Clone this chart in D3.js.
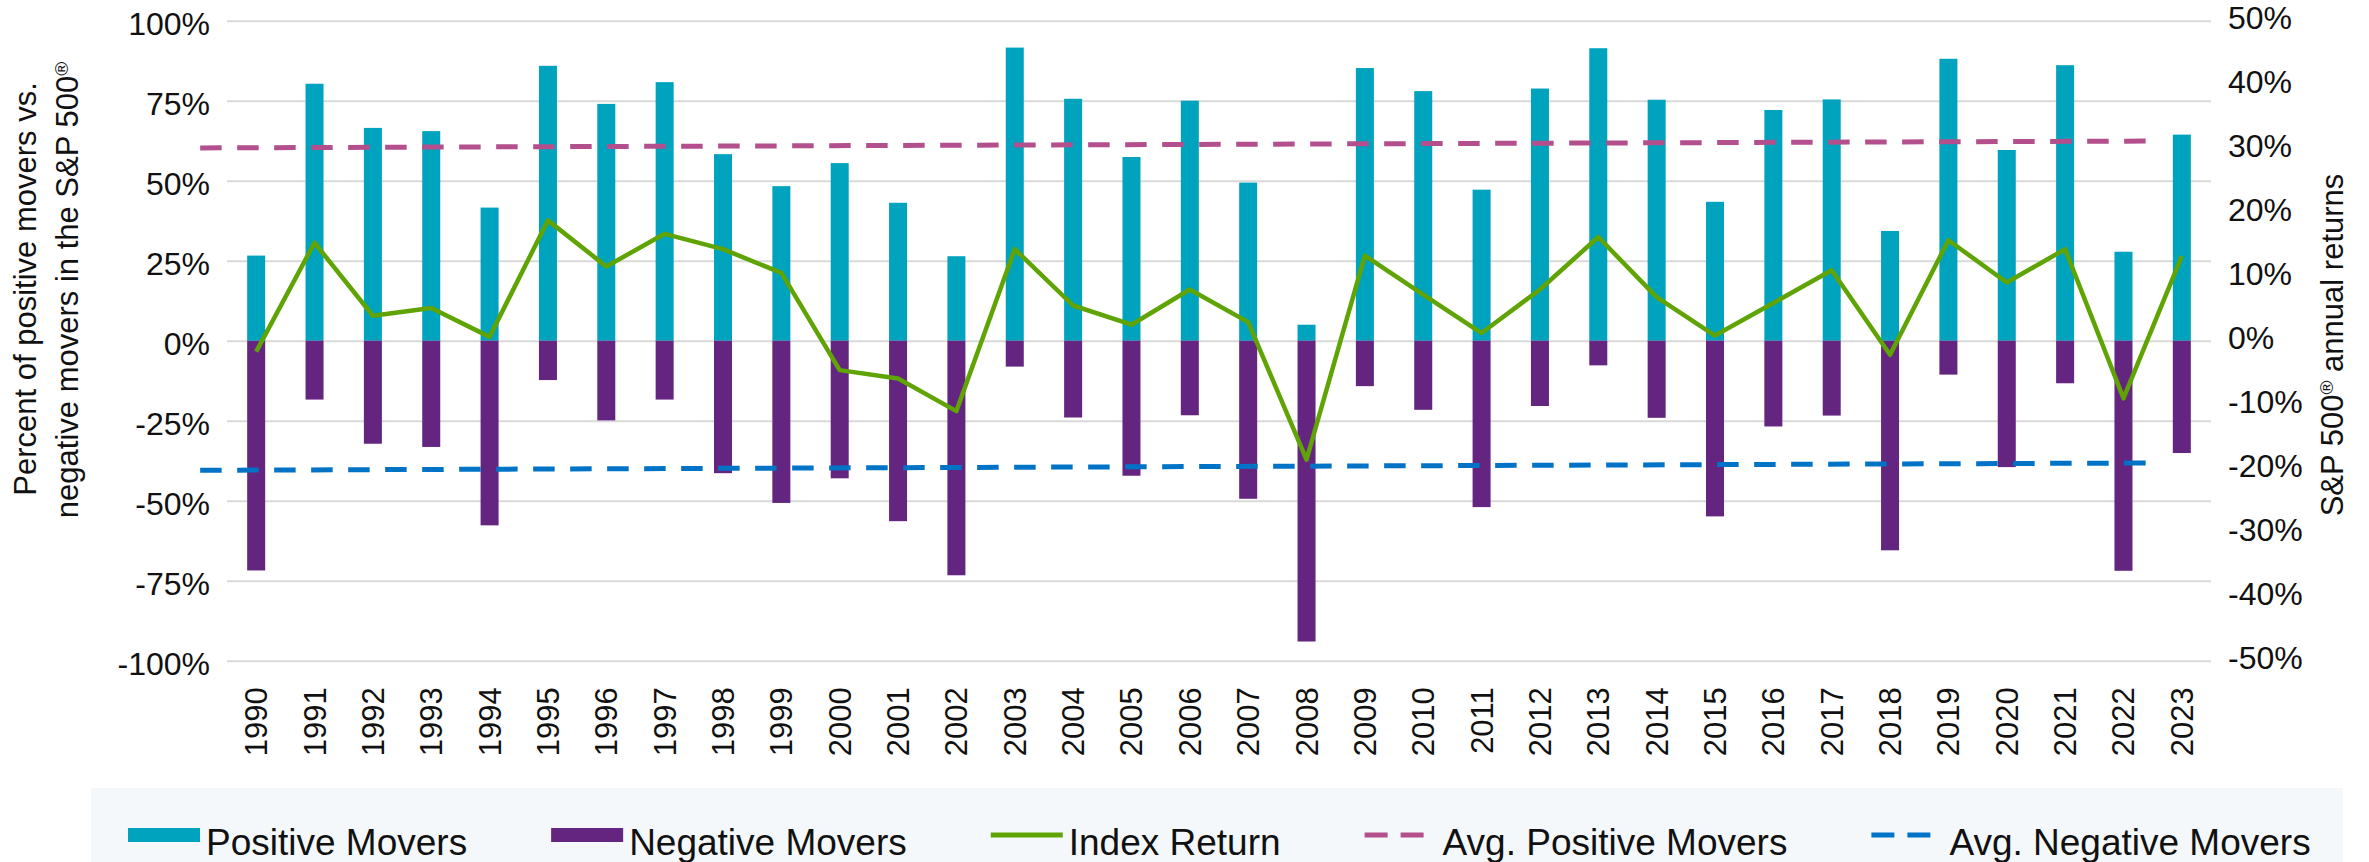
<!DOCTYPE html>
<html><head><meta charset="utf-8">
<script src="https://cdn.jsdelivr.net/npm/d3@7"></script>
<style>
body{margin:0;background:#fff}
text{font-family:"Liberation Sans",Arial,sans-serif;fill:#111}
</style>
</head><body>
<svg id="c" width="2369" height="862"></svg>
<script>
const years = ["1990","1991","1992","1993","1994","1995","1996","1997","1998","1999","2000","2001","2002","2003","2004","2005","2006","2007","2008","2009","2010","2011","2012","2013","2014","2015","2016","2017","2018","2019","2020","2021","2022","2023"];
const positiveMovers = [26.6,80.3,66.5,65.5,41.6,85.9,74.0,80.8,58.3,48.3,55.5,43.1,26.4,91.6,75.6,57.4,75.0,49.4,5.0,85.2,78.0,47.2,78.8,91.4,75.3,43.4,72.1,75.4,34.3,88.1,59.6,86.1,27.8,64.4];
const negativeMovers = [-71.8,-18.4,-32.2,-33.2,-57.7,-12.3,-24.9,-18.4,-41.4,-50.7,-43.0,-56.4,-73.3,-8.1,-24.0,-42.2,-23.3,-49.4,-94.0,-14.2,-21.6,-52.0,-20.4,-7.7,-24.1,-54.9,-26.8,-23.4,-65.5,-10.6,-39.5,-13.3,-71.9,-35.1];
const indexReturn = [-1.7,15.3,3.9,5.1,0.6,18.8,11.6,16.7,14.3,10.6,-4.6,-5.9,-11.0,14.3,5.5,2.5,8.0,2.9,-18.6,13.3,7.2,1.2,8.0,16.2,6.8,0.8,5.9,11.0,-2.2,15.7,9.1,14.3,-9.0,13.2];
const avgPositiveMovers = [60.25, 62.4];   // start, end of the average line
const avgNegativeMovers = [-40.5, -38.2];
const leftTicks = [100,75,50,25,0,-25,-50,-75,-100];
const rightTicks = [50,40,30,20,10,0,-10,-20,-30,-40,-50];
const legendItems = [
  {label:"Positive Movers", type:"rect", color:"#00A3BE"},
  {label:"Negative Movers", type:"rect", color:"#63257F"},
  {label:"Index Return", type:"line", color:"#5FA404"},
  {label:"Avg. Positive Movers", type:"dash", color:"#B44F8E"},
  {label:"Avg. Negative Movers", type:"dash", color:"#0173C7"}
];

const C = {pos:"#00A3BE", neg:"#63257F", idx:"#5FA404", avgP:"#B44F8E", avgN:"#0173C7", grid:"#D9D9D9"};
const svg = d3.select("#c");
const L = 227, R = 2211, T = 20.7, B = 660.7;

const x = d3.scaleBand().domain(years).range([L, R]);
const bw = x.bandwidth();
const barW = 18;
const cx = d => x(d) + bw/2;
const yL = d3.scaleLinear().domain([-100,100]).range([B, T]);
const yR = d3.scaleLinear().domain([-50,50]).range([B, T]);

// gridlines
const grid = svg.append("g").attr("transform", `translate(${L},0)`)
  .call(d3.axisLeft(yL).tickValues(leftTicks).tickSize(-(R-L)).tickFormat(""));
grid.select(".domain").remove();
grid.selectAll("line").attr("stroke", C.grid).attr("stroke-width", 2);

// left axis labels
const ax = svg.append("g").attr("transform", `translate(${L},0)`)
  .call(d3.axisLeft(yL).tickValues(leftTicks).tickSize(0).tickPadding(17).tickFormat(d => d + "%"));
ax.select(".domain").remove();
ax.selectAll("text").attr("dy", 14).style("font-size","32px").style("font-family","'Liberation Sans',Arial,sans-serif").attr("fill","#111");

// right axis labels
const axR = svg.append("g").attr("transform", `translate(${R},0)`)
  .call(d3.axisRight(yR).tickValues(rightTicks).tickSize(0).tickPadding(17).tickFormat(d => d + "%"));
axR.select(".domain").remove();
axR.selectAll("text").attr("dy", 8).style("font-size","32px").style("font-family","'Liberation Sans',Arial,sans-serif").attr("fill","#111");

// bottom axis (years)
const axB = svg.append("g").attr("transform", `translate(0,${B})`)
  .call(d3.axisBottom(x).tickSize(0));
axB.select(".domain").remove();
axB.selectAll("text").attr("transform","rotate(-90)").attr("text-anchor","end")
  .attr("x", -26.5).attr("y", 11).attr("dy", 0)
  .style("font-size","31px").style("font-family","'Liberation Sans',Arial,sans-serif").attr("fill","#111");

// bars
svg.append("g").selectAll("rect").data(years).join("rect")
  .attr("x", (d) => cx(d) - barW/2).attr("width", barW)
  .attr("y", (d,i) => yL(positiveMovers[i])).attr("height", (d,i) => yL(0) - yL(positiveMovers[i]))
  .attr("fill", C.pos);
svg.append("g").selectAll("rect").data(years).join("rect")
  .attr("x", (d) => cx(d) - barW/2).attr("width", barW)
  .attr("y", yL(0)).attr("height", (d,i) => yL(negativeMovers[i]) - yL(0))
  .attr("fill", C.neg);

// average lines
const xa0 = cx(years[0]) - 0.96*bw, xa1 = cx(years[years.length-1]) - 0.37*bw;
const avgLine = d3.line().x((d,i) => i === 0 ? xa0 : xa1).y(d => yL(d));
svg.append("path").datum(avgPositiveMovers).attr("d", avgLine)
  .attr("fill","none").attr("stroke", C.avgP).attr("stroke-width", 5).attr("stroke-dasharray","21.5 15.5");
svg.append("path").datum(avgNegativeMovers).attr("d", avgLine)
  .attr("fill","none").attr("stroke", C.avgN).attr("stroke-width", 5).attr("stroke-dasharray","21.5 15.5");

// index return line
svg.append("path").datum(indexReturn)
  .attr("d", d3.line().x((d,i) => cx(years[i])).y(d => yR(d)))
  .attr("fill","none").attr("stroke", C.idx).attr("stroke-width", 4.5).attr("stroke-linejoin","round");

// axis titles
svg.append("text").attr("transform","translate(36,289) rotate(-90)").attr("text-anchor","middle").style("font-size","31px")
  .text("Percent of positive movers vs.");
const t2 = svg.append("text").attr("transform","translate(78,290) rotate(-90)").attr("text-anchor","middle").style("font-size","31px");
t2.append("tspan").text("negative movers in the S&P 500");
t2.append("tspan").attr("baseline-shift","super").style("font-size","19px").text("®");
const t3 = svg.append("text").attr("transform","translate(2343,345) rotate(-90)").attr("text-anchor","middle").style("font-size","31px");
t3.append("tspan").text("S&P 500");
t3.append("tspan").attr("baseline-shift","super").style("font-size","19px").text("®");
t3.append("tspan").text(" annual returns");

// legend
svg.append("rect").attr("x", 91).attr("y", 788).attr("width", 2252).attr("height", 74).attr("fill", "#F4F8FB");
let lx = 128;
legendItems.forEach(it => {
  const g = svg.append("g");
  if (it.type === "rect") {
    g.append("rect").attr("x", lx).attr("y", 828).attr("width", 72).attr("height", 14).attr("fill", it.color);
  } else {
    g.append("line").attr("x1", lx).attr("x2", lx+72).attr("y1", 835).attr("y2", 835)
      .attr("stroke", it.color).attr("stroke-width", 5)
      .attr("stroke-dasharray", it.type === "dash" ? "23 13" : null);
  }
  const tx = g.append("text").attr("x", lx + 78).attr("y", 855).style("font-size","37px").text(it.label);
  lx = lx + 78 + tx.node().getComputedTextLength() + 84;
});
</script>
</body></html>
